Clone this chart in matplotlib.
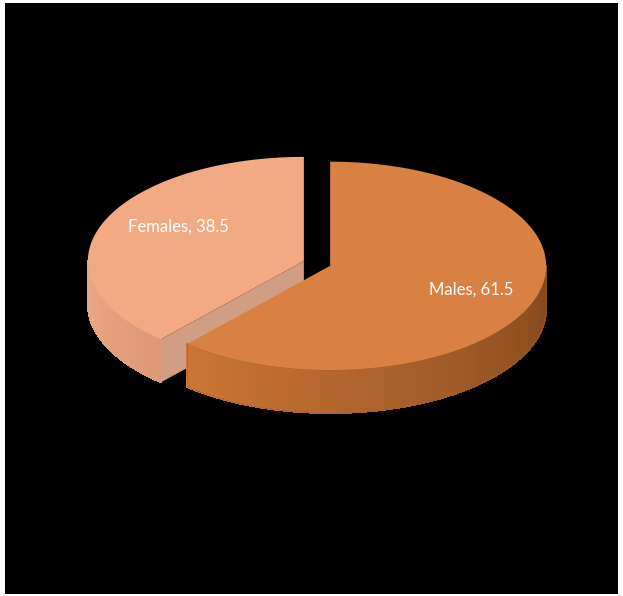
import numpy as np
import matplotlib
matplotlib.use('Agg')
import matplotlib.pyplot as plt
from matplotlib.patches import Polygon
from matplotlib.collections import PolyCollection

# data
labels = ['Males', 'Females']
values = [61.5, 38.5]

# look
top_colors = ['#D98142', '#F2AA84']
side_light = [(0.80, 0.46, 0.21), (0.93, 0.67, 0.53)]
side_dark = [(0.50, 0.28, 0.11), (0.86, 0.60, 0.47)]
cut_color = ['#A35E2C', '#D29E83']

W, H = 623, 596
cx, cy = 317, 263      # pie centre in pixels
rx, ry = 216, 104      # ellipse radii of the top face
depth = 43
explode = 0.065
label_r = [0.70, 0.62]
label_dy = [-2, -12]

fig = plt.figure(figsize=(W / 100, H / 100), dpi=100, facecolor='white')
ax = fig.add_axes([5 / W, 2 / H, 613 / W, 591 / H])
ax.set_facecolor('black')
ax.set_xlim(5, 618)
ax.set_ylim(593, 3)
ax.set_xticks([])
ax.set_yticks([])
for s in ax.spines.values():
    s.set_visible(False)


def pt(t, ox, oy, z=0):
    return (ox + rx * np.cos(t), oy - ry * np.sin(t) + z)


# angles: start at 12 o'clock, first slice clockwise
total = float(sum(values))
spans = [v / total * 2 * np.pi for v in values]
start = np.pi / 2
ranges = [(start - spans[0], start), (start, start + spans[1])]

# draw back slice (Females) first, then Males
for i in [1, 0]:
    t1, t2 = ranges[i]
    mid = (t1 + t2) / 2
    ox = cx + explode * rx * np.cos(mid)
    oy = cy - explode * ry * np.sin(mid)

    # radial cut face at t2 if it faces the viewer
    if np.cos(t2) < -0.01:
        a = pt(t2, ox, oy)
        poly = [(ox, oy), a, (a[0], a[1] + depth), (ox, oy + depth)]
        ax.add_patch(Polygon(poly, closed=True, fc=cut_color[i], ec='none', zorder=1))

    # outer side, only the front half (sin < 0)
    lo, hi = t1, t2
    if lo > 0:
        lo -= 2 * np.pi
        hi -= 2 * np.pi
    a0 = max(lo, -np.pi)
    a1 = min(hi, 0)
    if a1 > a0:
        n = 120
        ts = np.linspace(a0, a1, n + 1)
        quads, cols = [], []
        for k in range(n):
            f = k / n
            c = tuple(side_light[i][j] * (1 - f) + side_dark[i][j] * f for j in range(3))
            p1 = pt(ts[k], ox, oy)
            p2 = pt(ts[k + 1], ox, oy)
            quads.append([p1, p2, (p2[0], p2[1] + depth), (p1[0], p1[1] + depth)])
            cols.append(c)
        pc = PolyCollection(quads, facecolors=cols, edgecolors=cols, linewidths=0.6,
                            antialiased=False, zorder=2)
        ax.add_collection(pc)
        # smooth outline of the side
        ts2 = np.linspace(a0, a1, 200)
        outline = [pt(t, ox, oy) for t in ts2] + [pt(t, ox, oy, depth) for t in ts2[::-1]]
        ax.add_patch(Polygon(outline, closed=True, fc='none', ec=cols[len(cols) // 2],
                             lw=0.4, zorder=2))

    # top face
    ts = np.linspace(t1, t2, 200)
    poly = [(ox, oy)] + [pt(t, ox, oy) for t in ts]
    ax.add_patch(Polygon(poly, closed=True, fc=top_colors[i], ec='none', zorder=3))

    # label
    lx = ox + label_r[i] * rx * np.cos(mid)
    ly = oy - label_r[i] * ry * np.sin(mid) + label_dy[i]
    ax.text(lx, ly, '%s, %g' % (labels[i], values[i]), color='white',
            fontsize=12, family=['Lato', 'DejaVu Sans'],
            ha='center', va='center', zorder=5)

fig.savefig('out.png', dpi=100, facecolor='white')
